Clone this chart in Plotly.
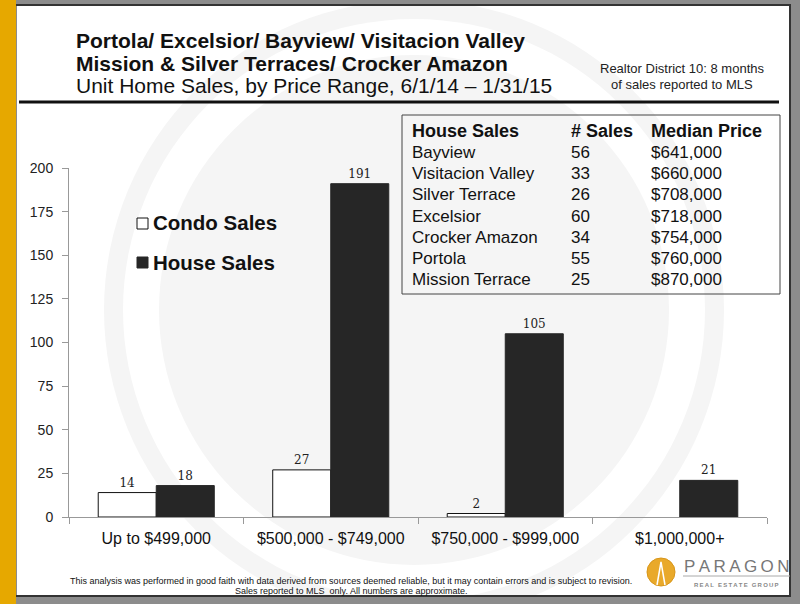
import plotly.graph_objects as go

# ---------------- data ----------------
categories = ["Up to $499,000", "$500,000 - $749,000", "$750,000 - $999,000", "$1,000,000+"]
condo_sales = [14, 27, 2, 0]
house_sales = [18, 191, 105, 21]
y_ticks = [0, 25, 50, 75, 100, 125, 150, 175, 200]

table_header = ["House Sales", "# Sales", "Median Price"]
neighborhoods = ["Bayview", "Visitacion Valley", "Silver Terrace", "Excelsior",
                 "Crocker Amazon", "Portola", "Mission Terrace"]
neigh_sales = [56, 33, 26, 60, 34, 55, 25]
neigh_median = ["$641,000", "$660,000", "$708,000", "$718,000", "$754,000", "$760,000", "$870,000"]

title_lines = ["Portola/ Excelsior/ Bayview/ Visitacion Valley",
               "Mission & Silver Terraces/ Crocker Amazon",
               "Unit Home Sales, by Price Range, 6/1/14 \u2013 1/31/15"]
note_lines = ["Realtor District 10: 8 months", "of sales reported to MLS"]
footer_lines = ["This analysis was performed in good faith with data derived from sources deemed reliable, but it may contain errors and is subject to revision.",
                "Sales reported to MLS  only. All numbers are approximate."]

W, H = 800, 604
def px(x): return x / W
def py(y): return 1 - y / H

SANS = "Liberation Sans, Arial, sans-serif"
DARK = "#262626"

fig = go.Figure()
fig.add_trace(go.Bar(
    name="Condo Sales", x=categories, y=condo_sales,
    marker=dict(color="white", line=dict(color="#111", width=[1 if v > 0 else 0 for v in condo_sales])),
    text=[str(v) if v > 0 else "" for v in condo_sales],
    textposition="outside", cliponaxis=False,
    textfont=dict(family="DejaVu Serif, serif", size=12, color="#222"),
))
fig.add_trace(go.Bar(
    name="House Sales", x=categories, y=house_sales,
    marker=dict(color=DARK, line=dict(color=DARK, width=1)),
    text=[str(v) if v > 0 else "" for v in house_sales],
    textposition="outside", cliponaxis=False,
    textfont=dict(family="DejaVu Serif, serif", size=12, color="#222"),
))

shapes = []
def rect(x0, y0, x1, y1, fill, line_color=None, lw=0, layer="below"):
    shapes.append(dict(type="rect", xref="paper", yref="paper", x0=px(x0), x1=px(x1), y0=py(y1), y1=py(y0),
                       fillcolor=fill, line=dict(color=line_color or fill, width=lw), layer=layer))

# white page
rect(17, 5, 790, 596, "white")
# watermark (faint circular logo)
cx, cy = 414, 310
for r, col in [(310, "#f5f5f5"), (291, "white"), (255, "#f5f5f5")]:
    shapes.append(dict(type="circle", xref="paper", yref="paper",
                       x0=px(cx - r), x1=px(cx + r), y0=py(cy + r), y1=py(cy - r),
                       fillcolor=col, line=dict(width=0), layer="below"))
# frame drawn over the watermark
rect(0, 0, 800, 4, "#8c8c8c")
rect(0, 597, 800, 604, "#8c8c8c")
rect(791, 0, 800, 604, "#8c8c8c")
rect(16, 4, 791, 6, "#333")
rect(16, 595, 791, 597, "#333")
rect(789, 4, 791, 597, "#333")
rect(0, 0, 16, 604, "#E6A800")
# title rule
shapes.append(dict(type="line", xref="paper", yref="paper", x0=px(19), x1=px(779), y0=py(102), y1=py(102),
                   line=dict(color="#111", width=3)))
# table box
shapes.append(dict(type="rect", xref="paper", yref="paper", x0=px(402), x1=px(780), y0=py(294), y1=py(115),
                   line=dict(color="#444", width=1), fillcolor="rgba(0,0,0,0)"))
# legend boxes
shapes.append(dict(type="rect", xref="paper", yref="paper", x0=px(137), x1=px(148), y0=py(229), y1=py(218),
                   fillcolor="white", line=dict(color="#111", width=1)))
shapes.append(dict(type="rect", xref="paper", yref="paper", x0=px(137), x1=px(148), y0=py(268), y1=py(257),
                   fillcolor=DARK, line=dict(color=DARK, width=1)))
# logo
shapes.append(dict(type="circle", xref="paper", yref="paper", x0=px(647), x1=px(675), y0=py(586), y1=py(558),
                   fillcolor="#E9A92A", line=dict(color="#D8961A", width=1)))
shapes.append(dict(type="path", xref="paper", yref="paper",
                   path=f"M {px(657)} {py(585)} L {px(661)} {py(562)} L {px(665)} {py(585)}",
                   line=dict(color="white", width=1.5)))
shapes.append(dict(type="line", xref="paper", yref="paper", x0=px(683), x1=px(790), y0=py(576), y1=py(576),
                   line=dict(color="#aaa", width=1)))

ann = []
def add_text(x, y, s, size, bold=False, color="#111", xanchor="left", family=SANS):
    ann.append(dict(x=px(x), y=py(y), xref="paper", yref="paper", text=f"<b>{s}</b>" if bold else s,
                    showarrow=False, xanchor=xanchor, yanchor="middle",
                    font=dict(family=family, size=size, color=color)))

add_text(74, 40, title_lines[0], 21, bold=True)
add_text(74, 63, title_lines[1], 21, bold=True)
add_text(74, 86, title_lines[2], 21)
add_text(682, 69, note_lines[0], 13, color="#222", xanchor="center")
add_text(682, 84, note_lines[1], 13, color="#222", xanchor="center")

# legend
add_text(151, 223, "Condo Sales", 20.5, bold=True)
add_text(151, 262, "House Sales", 20.5, bold=True)

# table
col_x = [410, 569, 649]
add_text(col_x[0], 131, table_header[0], 18, bold=True)
add_text(col_x[1], 131, table_header[1], 18, bold=True)
add_text(col_x[2], 131, table_header[2], 18, bold=True)
row_y0, row_dy = 152.5, 21.25
for i, (nm, ns, md) in enumerate(zip(neighborhoods, neigh_sales, neigh_median)):
    yy = row_y0 + i * row_dy
    add_text(col_x[0], yy, nm, 17, color="#111")
    add_text(col_x[1], yy, str(ns), 17, color="#111")
    add_text(col_x[2], yy, md, 17, color="#111")

# footer
add_text(351, 581, footer_lines[0], 9, color="#111", xanchor="center")
add_text(351, 590.5, footer_lines[1], 9, color="#111", xanchor="center")

# logo text
add_text(736, 566, "\u2009".join("PARAGON"), 17, color="#777", xanchor="center")
add_text(736, 585, "\u2009".join("REAL ESTATE GROUP"), 6, bold=True, color="#888", xanchor="center")

fig.update_layout(
    width=W, height=H, margin=dict(l=0, r=0, t=0, b=0, pad=0, autoexpand=False),
    paper_bgcolor="#8c8c8c", plot_bgcolor="rgba(0,0,0,0)",
    barmode="group", bargap=0.335, bargroupgap=0,
    showlegend=False, shapes=shapes, annotations=ann,
    xaxis=dict(domain=[px(69), px(767)], type="category", showline=True, linecolor="#999", linewidth=1,
               ticks="outside", tickson="boundaries", ticklen=6, tickcolor="#999",
               tickfont=dict(family=SANS, size=16, color="#111"), showgrid=False, zeroline=False,
               ticklabelstandoff=7, automargin=False),
    yaxis=dict(domain=[py(517), py(168)], range=[0, 200], tickvals=y_ticks, showline=True, linecolor="#999",
               linewidth=1, ticks="outside", ticklen=6, tickcolor="#999", showgrid=False, zeroline=False,
               tickfont=dict(family=SANS, size=14, color="#222"), ticklabelstandoff=6, automargin=False),
)

fig.write_html("out.html")
